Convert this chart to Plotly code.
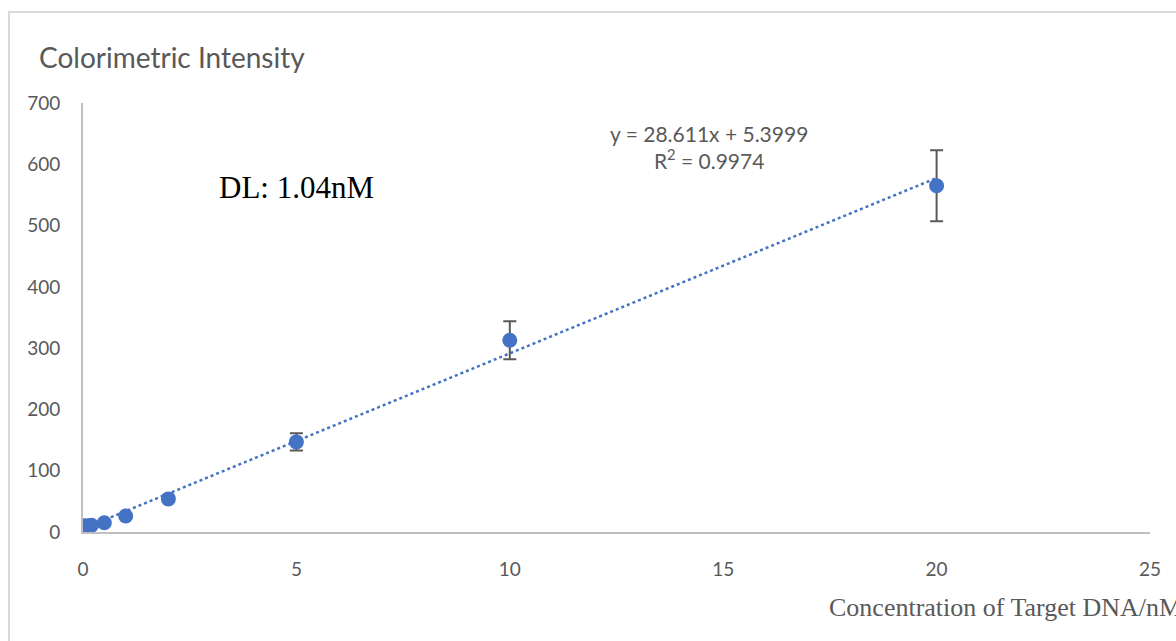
import plotly.graph_objects as go

# Calibration data: target DNA concentration (nM) vs colorimetric intensity
concentration = [0, 0.1, 0.2, 0.5, 1, 2, 5, 10, 20]
intensity = [10, 10, 11, 15, 26, 54, 147, 313, 565]
intensity_sd = [3, 3, 3, 3, 3, 5, 14, 31, 58]

# Linear fit shown on the chart
slope = 28.611
intercept = 5.3999
r_squared = 0.9974
fit_x = [0, 20]
fit_y = [slope * v + intercept for v in fit_x]

x_ticks = [0, 5, 10, 15, 20, 25]
y_ticks = [0, 100, 200, 300, 400, 500, 600, 700]

W, H = 1176, 641
L, R, T, B = 83, 26, 103, 109
pw, ph = W - L - R, H - T - B

def px(xp):
    return (xp - L) / pw

def py(yp):
    return (H - B - yp) / ph

blue = "#4472C4"
grey_text = "#595959"
sans = "Lato, Open Sans, sans-serif"
serif = "Liberation Serif, Times New Roman, serif"

fig = go.Figure()

fig.add_trace(go.Scatter(
    x=fit_x, y=fit_y, mode="lines",
    line=dict(color=blue, width=2.5, dash="dot"),
    hoverinfo="skip", showlegend=False,
))

fig.add_trace(go.Scatter(
    x=concentration, y=intensity, mode="markers",
    marker=dict(color=blue, size=15),
    error_y=dict(type="data", array=intensity_sd, color=grey_text,
                 thickness=2, width=6.5, visible=True),
    showlegend=False,
))

fig.update_xaxes(
    range=[0, 25], tickvals=x_ticks, showgrid=False, zeroline=False,
    showline=True, linecolor="#BFBFBF", linewidth=2,
    tickfont=dict(family=sans, size=19, color=grey_text),
    ticks="outside", ticklen=19, tickcolor="rgba(0,0,0,0)",
)
fig.update_yaxes(
    range=[0, 700], tickvals=y_ticks, showgrid=False, zeroline=False,
    showline=True, linecolor="#BFBFBF", linewidth=2,
    tickfont=dict(family=sans, size=19, color=grey_text),
    ticks="outside", ticklen=17, tickcolor="rgba(0,0,0,0)",
)

annotations = [
    dict(x=px(37), y=py(57), xref="paper", yref="paper", xanchor="left", yanchor="middle",
         text="Colorimetric Intensity", showarrow=False,
         font=dict(family=sans, size=28, color=grey_text)),
    dict(x=px(217), y=py(187), xref="paper", yref="paper", xanchor="left", yanchor="middle",
         text="DL: 1.04nM", showarrow=False,
         font=dict(family=serif, size=31, color="#000000")),
    dict(x=px(709), y=py(147), xref="paper", yref="paper", xanchor="center", yanchor="middle",
         text=f"y = {slope}x + {intercept}<br>R<sup>2</sup> = {r_squared}", showarrow=False,
         align="center",
         font=dict(family=sans, size=21, color=grey_text)),
    dict(x=px(827), y=py(607), xref="paper", yref="paper", xanchor="left", yanchor="middle",
         text="Concentration of Target DNA/nM", showarrow=False,
         font=dict(family=serif, size=26, color=grey_text)),
]

shapes = [
    dict(type="rect", xref="paper", yref="paper",
         x0=px(9), x1=px(1190), y0=py(660), y1=py(12),
         line=dict(color="#D9D9D9", width=2), fillcolor="rgba(0,0,0,0)", layer="below"),
]

fig.update_layout(
    width=W, height=H,
    margin=dict(l=L, r=R, t=T, b=B),
    paper_bgcolor="white", plot_bgcolor="white",
    annotations=annotations, shapes=shapes,
)

fig.write_html("out.html")
